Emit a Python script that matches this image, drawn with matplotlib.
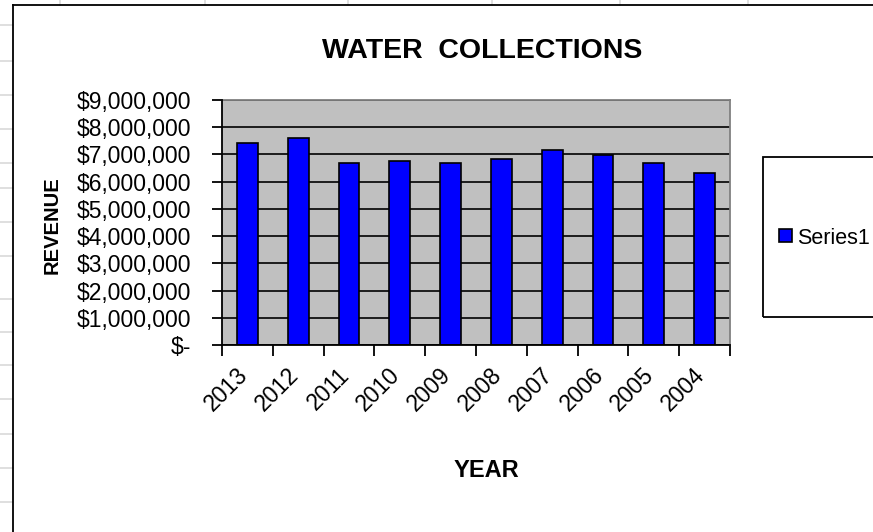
import matplotlib
matplotlib.use("Agg")
import matplotlib.pyplot as plt
from matplotlib.ticker import FuncFormatter, FixedLocator
from matplotlib.lines import Line2D
from matplotlib.patches import Rectangle
from matplotlib.transforms import ScaledTranslation

years = ["2013", "2012", "2011", "2010", "2009", "2008", "2007", "2006", "2005", "2004"]
revenue = [7410000, 7620000, 6680000, 6750000, 6680000, 6820000, 7170000, 6980000, 6680000, 6310000]
series_name = "Series1"
title = "WATER  COLLECTIONS"
xlabel = "YEAR"
ylabel = "REVENUE"

W, H = 873, 532
fig = plt.figure(figsize=(W / 100, H / 100), dpi=100)
fig.patch.set_facecolor("white")

def fx(px):
    return px / W

def fy(py):
    return 1 - py / H

# spreadsheet background grid (outside chart area)
grid_col = "#d9d9d9"
for x in [60, 205, 348, 492, 620, 748]:
    fig.add_artist(Line2D([fx(x), fx(x)], [fy(0), fy(5)], color=grid_col, lw=1.2))
for y in [25, 61, 95, 129, 163, 188, 222, 256, 299, 332, 365, 399, 434, 468, 502]:
    fig.add_artist(Line2D([fx(0), fx(13)], [fy(y), fy(y)], color=grid_col, lw=1.2))

# chart area border
fig.add_artist(Line2D([fx(13), fx(13)], [fy(5), fy(540)], color="black", lw=1.3))
fig.add_artist(Line2D([fx(13), fx(880)], [fy(5), fy(5)], color="black", lw=1.3))

FONT = "Liberation Sans"
TS = 16.5

left, right, top, bottom = 222, 730, 100, 345
ax = fig.add_axes([fx(left), fy(bottom), fx(right) - fx(left), fy(top) - fy(bottom)])
ax.set_facecolor("#c0c0c0")

x = list(range(len(years)))
bars = ax.bar(x, revenue, width=0.41, color="#0000ff", edgecolor="black", linewidth=1.2,
              label=series_name, zorder=3)

ax.set_xlim(-0.5, len(years) - 0.5)
ax.set_ylim(0, 9000000)
ax.yaxis.set_major_locator(FixedLocator([i * 1000000 for i in range(10)]))
ax.yaxis.set_major_formatter(FuncFormatter(lambda v, p: "$-" if v == 0 else "${:,.0f}".format(v)))
ax.grid(axis="y", color="black", lw=1.2, zorder=1)
ax.set_axisbelow(True)

ax.xaxis.set_major_locator(FixedLocator([i - 0.5 for i in range(len(years) + 1)]))
ax.xaxis.set_major_formatter(FuncFormatter(lambda v, p: ""))
ax.set_xticks(x, minor=True)
ax.set_xticklabels(years, minor=True, rotation=45, ha="right", va="top",
                   fontsize=TS, family=FONT)
ax.tick_params(axis="x", which="major", length=8, width=1.3, direction="out", color="black")
ax.tick_params(axis="x", which="minor", length=0, pad=13.5)
off = ScaledTranslation(5 / 100, 0, fig.dpi_scale_trans)
for lbl in ax.xaxis.get_minorticklabels():
    lbl.set_transform(lbl.get_transform() + off)
ax.tick_params(axis="y", which="major", length=7, width=1.3, direction="out", pad=15,
               labelsize=TS)
for lbl in ax.get_yticklabels():
    lbl.set_family(FONT)

for s in ["left", "bottom"]:
    ax.spines[s].set_color("black")
    ax.spines[s].set_linewidth(1.3)
    ax.spines[s].set_zorder(4)
for s in ["top", "right"]:
    ax.spines[s].set_color("#808080")
    ax.spines[s].set_linewidth(1.3)

# titles
fig.text(fx(482), fy(58), title, ha="center", va="baseline", fontsize=20.5,
         fontweight="bold", family=FONT)
fig.text(fx(486), fy(477), xlabel, ha="center", va="baseline", fontsize=17,
         fontweight="bold", family=FONT)
fig.text(fx(52), fy(225), ylabel, ha="center", va="center", rotation=90, fontsize=14.5,
         fontweight="bold", family=FONT)

# legend
fig.add_artist(Rectangle((fx(763), fy(317)), fx(200), fy(157) - fy(317),
                         transform=fig.transFigure, fill=False, edgecolor="black",
                         lw=1.3, clip_on=False))
leg = fig.legend(handles=[bars], labels=[series_name], loc="center left",
                 bbox_to_anchor=(fx(779), fy(238)), frameon=False,
                 prop={"family": FONT, "size": 15.5},
                 handlelength=0.6, handleheight=0.55, handletextpad=0.25,
                 borderpad=0, borderaxespad=0)

fig.savefig("out.png", dpi=100)
